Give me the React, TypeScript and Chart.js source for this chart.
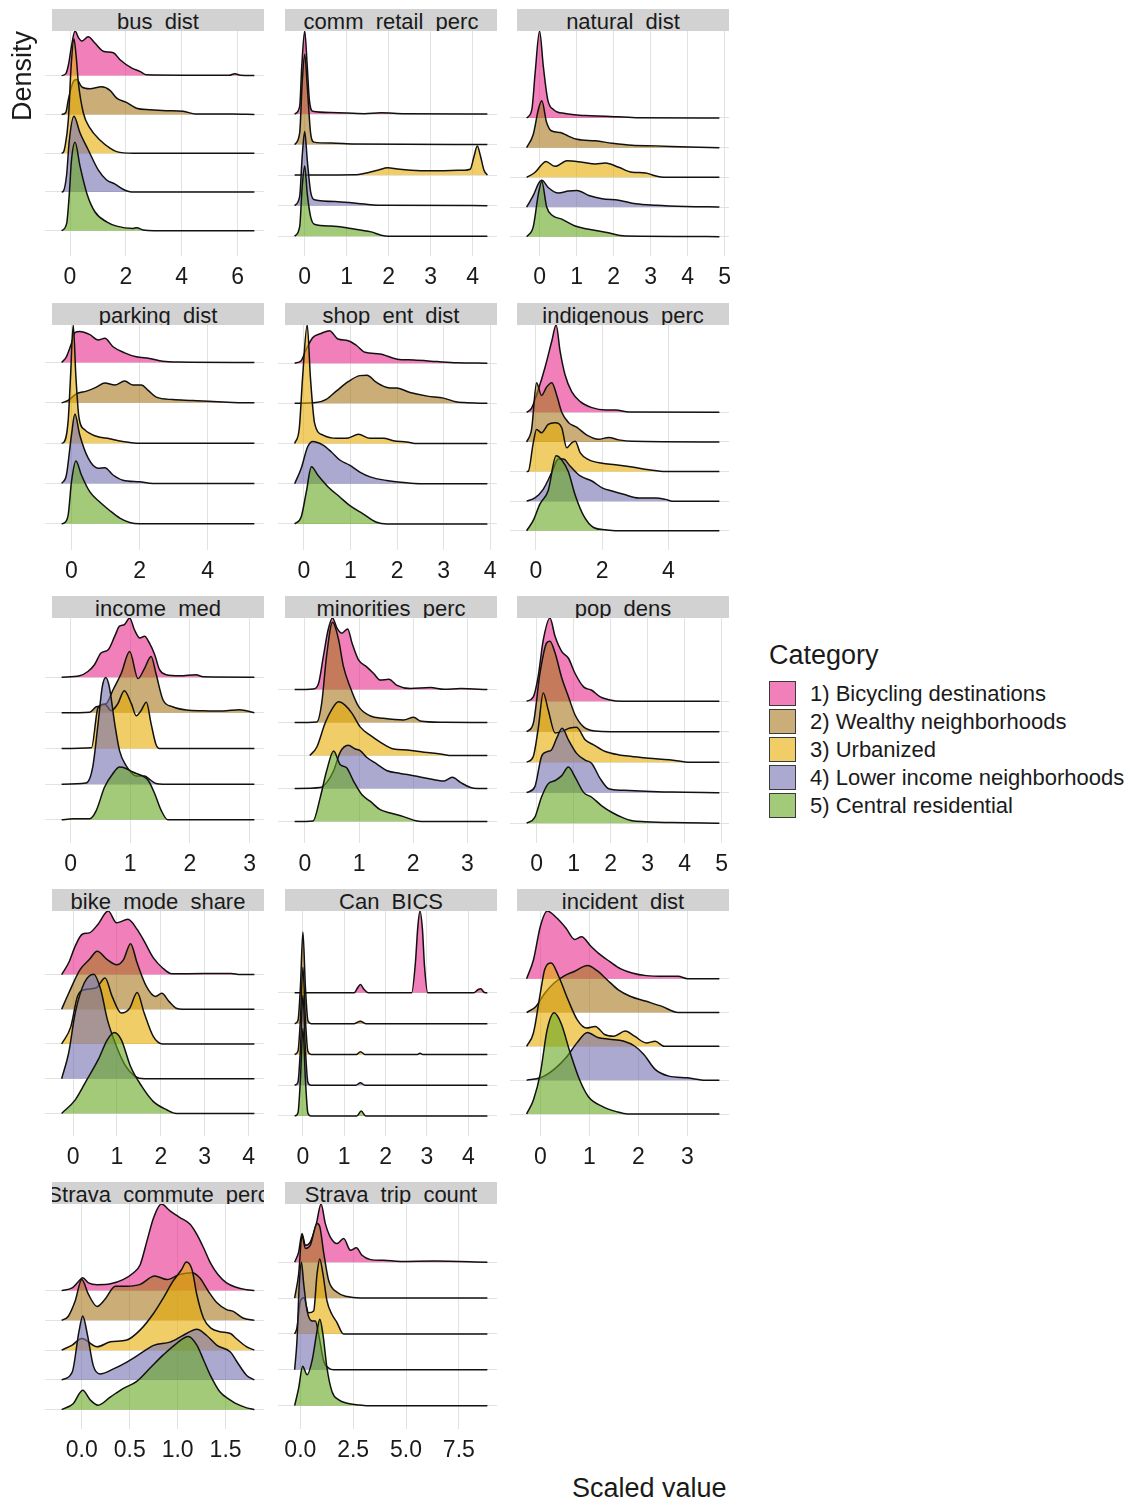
import React, { useEffect, useRef } from "react";
import { Chart, registerables } from "chart.js";

Chart.register(...registerables);

type Pt = [number, number];

// ---------- legend / categories ----------
const categories = [
  "1) Bicycling destinations",
  "2) Wealthy neighborhoods",
  "3) Urbanized",
  "4) Lower income neighborhoods",
  "5) Central residential",
];
const categoryColors = ["#E7298A", "#A6761D", "#E6AB02", "#7570B3", "#66A61E"];
const FILL_ALPHA = 0.6;

// ---------- ridge data: [scaled value, ridge height] per category (1..5) ----------
const busDist: Pt[][] = [
  [[-0.3,0],[-0.15,0.05],[-0.05,0.3],[0.05,0.75],[0.18,1.15],[0.3,0.98],[0.42,0.89],[0.65,1.0],[0.89,0.84],[1.19,0.63],[1.55,0.59],[1.79,0.41],[2.2,0.2],[2.5,0.11],[2.74,0.02],[4.0,0.01],[5.7,0.01],[5.9,0.05],[6.1,0.01],[6.6,0]],
  [[-0.3,0],[-0.15,0.05],[-0.06,0.38],[0.12,0.85],[0.24,0.9],[0.42,0.71],[0.71,0.66],[1.13,0.71],[1.43,0.62],[1.67,0.42],[2.02,0.31],[2.38,0.16],[2.86,0.12],[3.45,0.095],[4.05,0.08],[4.5,0.01],[5.8,0.01],[6.6,0]],
  [[-0.3,0],[-0.24,0.02],[-0.18,0.17],[-0.06,0.86],[0.04,2.24],[0.14,2.95],[0.22,2.5],[0.3,1.81],[0.48,1.03],[0.71,0.65],[1.07,0.34],[1.43,0.13],[1.67,0.04],[2.26,0],[6.6,0]],
  [[-0.3,0],[-0.24,0.02],[-0.12,0.45],[-0.03,1.3],[0.14,1.95],[0.36,1.52],[0.65,1.09],[1.01,0.57],[1.31,0.31],[1.6,0.21],[1.9,0.07],[2.2,0],[6.6,0]],
  [[-0.3,0],[-0.12,0.19],[-0.03,0.9],[0.05,1.8],[0.18,2.28],[0.36,1.66],[0.6,0.97],[0.89,0.49],[1.31,0.23],[1.67,0.12],[2.26,0.06],[2.38,0.08],[2.62,0.02],[3.0,0],[6.6,0]],
];
const commRetailPerc: Pt[][] = [
  [[-0.24,0],[-0.12,0.25],[-0.07,1.57],[0,2.72],[0.06,1.57],[0.11,0.47],[0.19,0.09],[0.63,0.05],[1.42,0.01],[1.82,0.04],[2.37,0.01],[4.35,0]],
  [[-0.24,0],[-0.12,0.38],[-0.06,2.03],[0,2.96],[0.06,1.92],[0.14,0.38],[0.22,0.08],[0.63,0.05],[1.18,0.02],[4.35,0]],
  [[-0.24,0],[1.18,0.01],[1.5,0.08],[1.74,0.16],[1.98,0.24],[2.21,0.2],[2.53,0.16],[3.0,0.14],[3.48,0.15],[3.8,0.16],[3.94,0.19],[4.03,0.6],[4.11,0.95],[4.19,0.6],[4.27,0.16],[4.35,0]],
  [[-0.24,0],[-0.12,0.3],[-0.06,1.61],[0,2.43],[0.06,1.5],[0.14,0.46],[0.23,0.19],[0.79,0.13],[1.42,0.05],[1.9,0.01],[4.35,0]],
  [[-0.24,0],[-0.12,0.31],[-0.06,1.62],[0,2.3],[0.06,1.4],[0.14,0.64],[0.23,0.39],[0.63,0.33],[1.1,0.25],[1.58,0.14],[1.82,0.03],[2.0,0],[4.35,0]],
];
const naturalDist: Pt[][] = [
  [[-0.35,0],[-0.21,0.28],[-0.12,1.52],[0,2.93],[0.1,1.75],[0.22,0.62],[0.38,0.28],[0.69,0.15],[1.24,0.08],[1.78,0.06],[2.6,0.01],[4.86,0]],
  [[-0.35,0],[-0.17,0.45],[-0.03,1.3],[0.06,1.58],[0.19,0.85],[0.33,0.56],[0.56,0.51],[0.78,0.39],[1.01,0.28],[1.51,0.23],[1.96,0.15],[2.5,0.08],[3.14,0.06],[4.04,0.02],[4.86,0]],
  [[-0.35,0],[-0.12,0.17],[0.06,0.43],[0.17,0.53],[0.42,0.37],[0.74,0.56],[1.15,0.51],[1.51,0.45],[1.78,0.48],[2.14,0.34],[2.5,0.17],[2.87,0.15],[3.05,0.08],[3.23,0.02],[3.5,0],[4.86,0]],
  [[-0.35,0],[-0.17,0.39],[-0.03,0.79],[0.06,0.9],[0.24,0.65],[0.51,0.47],[0.78,0.54],[1.01,0.56],[1.33,0.39],[1.69,0.28],[2.14,0.23],[2.6,0.11],[3.14,0.06],[3.95,0.02],[4.86,0]],
  [[-0.35,0],[-0.17,0.34],[-0.03,1.46],[0.06,1.86],[0.19,1.01],[0.33,0.73],[0.6,0.59],[0.96,0.36],[1.33,0.25],[1.78,0.15],[2.32,0.02],[3.86,0.01],[4.86,0]],
];
const parkingDist: Pt[][] = [
  [[-0.29,0],[-0.15,0.14],[0,0.48],[0.1,0.74],[0.24,0.77],[0.54,0.69],[0.78,0.56],[0.98,0.6],[1.22,0.39],[1.56,0.24],[1.9,0.14],[2.29,0.1],[2.68,0.03],[3.17,0.01],[5.37,0]],
  [[-0.29,0],[-0.1,0.06],[0.15,0.23],[0.44,0.29],[0.73,0.39],[0.98,0.49],[1.27,0.44],[1.56,0.54],[1.81,0.44],[2.05,0.44],[2.25,0.31],[2.49,0.14],[2.98,0.08],[3.56,0.06],[4.15,0.03],[4.73,0.01],[5.37,0]],
  [[-0.29,0],[-0.24,0.01],[-0.1,0.54],[-0.03,1.63],[0.05,2.93],[0.13,1.63],[0.22,0.63],[0.39,0.33],[0.73,0.17],[1.12,0.11],[1.51,0.04],[1.9,0],[5.37,0]],
  [[-0.29,0],[-0.15,0.21],[0,1.21],[0.1,1.72],[0.24,1.21],[0.49,0.63],[0.78,0.38],[0.98,0.39],[1.22,0.21],[1.51,0.08],[2.0,0.04],[2.39,0],[5.37,0]],
  [[-0.29,0],[-0.24,0.01],[-0.1,0.21],[0,1.05],[0.13,1.56],[0.29,1.21],[0.54,0.79],[0.83,0.54],[1.12,0.33],[1.42,0.14],[1.71,0.03],[2.0,0],[5.37,0]],
];
const shopEntDist: Pt[][] = [
  [[-0.2,0],[-0.06,0.06],[0.05,0.35],[0.19,0.64],[0.37,0.74],[0.55,0.81],[0.73,0.6],[0.95,0.56],[1.13,0.44],[1.31,0.27],[1.63,0.23],[2.0,0.1],[2.36,0.08],[2.86,0.04],[3.29,0.01],[3.94,0]],
  [[-0.2,0],[0.26,0.02],[0.48,0.1],[0.7,0.31],[0.95,0.54],[1.2,0.69],[1.35,0.7],[1.56,0.52],[1.81,0.39],[2.0,0.38],[2.28,0.27],[2.65,0.18],[3.0,0.13],[3.26,0.04],[3.44,0.02],[3.94,0]],
  [[-0.2,0],[-0.1,0.38],[-0.03,1.63],[0.07,2.95],[0.14,1.63],[0.23,0.5],[0.41,0.21],[0.7,0.13],[0.95,0.14],[1.17,0.23],[1.42,0.13],[1.71,0.13],[1.92,0.07],[2.21,0.04],[2.43,0],[3.94,0]],
  [[-0.2,0],[-0.06,0.38],[0.08,0.92],[0.19,1.05],[0.41,0.96],[0.59,0.79],[0.77,0.59],[0.98,0.46],[1.2,0.29],[1.42,0.17],[1.78,0.08],[2.14,0.03],[2.5,0],[3.94,0]],
  [[-0.2,0],[-0.06,0.17],[0.05,0.79],[0.16,1.42],[0.3,1.21],[0.52,0.92],[0.77,0.67],[0.98,0.46],[1.27,0.25],[1.56,0.04],[1.78,0],[3.94,0]],
];
const indigenousPerc: Pt[][] = [
  [[-0.28,0],[-0.13,0.14],[0.07,0.76],[0.27,1.5],[0.48,2.41],[0.61,2.95],[0.73,2.07],[0.88,1.27],[1.08,0.7],[1.34,0.36],[1.69,0.16],[2.1,0.08],[2.4,0.08],[2.81,0.01],[5.54,0]],
  [[-0.28,0],[-0.13,0.43],[0.02,2.0],[0.17,1.57],[0.32,1.85],[0.48,2.0],[0.63,1.57],[0.78,1.0],[0.98,0.66],[1.24,0.49],[1.54,0.23],[1.89,0.09],[2.2,0.15],[2.5,0.07],[2.91,0.02],[5.54,0]],
  [[-0.28,0],[-0.23,0.01],[-0.08,0.97],[0.02,1.42],[0.17,1.31],[0.37,1.59],[0.58,1.65],[0.78,1.48],[0.93,0.8],[1.08,0.97],[1.19,1.02],[1.34,0.63],[1.59,0.4],[2.0,0.28],[2.4,0.23],[2.91,0.15],[3.41,0.06],[3.92,0],[5.54,0]],
  [[-0.28,0],[-0.03,0.11],[0.22,0.4],[0.48,0.97],[0.68,1.42],[0.83,1.42],[1.03,1.19],[1.34,0.85],[1.69,0.68],[2.0,0.45],[2.3,0.34],[2.65,0.23],[3.11,0.11],[3.62,0.11],[3.92,0.06],[4.12,0],[5.54,0]],
  [[-0.28,0],[-0.08,0.35],[0.12,0.9],[0.37,1.35],[0.61,2.53],[0.78,2.39],[0.98,1.99],[1.19,1.19],[1.44,0.51],[1.74,0.11],[2.1,0.03],[2.4,0],[5.54,0]],
];
const incomeMed: Pt[][] = [
  [[-0.15,0],[0.15,0.04],[0.29,0.16],[0.4,0.35],[0.51,0.68],[0.63,0.77],[0.74,1.15],[0.82,1.43],[0.9,1.47],[0.99,1.66],[1.07,1.33],[1.16,1.1],[1.24,1.15],[1.32,0.96],[1.41,0.63],[1.49,0.21],[1.6,0.07],[1.83,0.04],[2.1,0.07],[2.22,0.01],[3.08,0]],
  [[-0.15,0],[0.32,0.02],[0.43,0.17],[0.6,0.26],[0.71,0.64],[0.85,1.11],[0.99,1.72],[1.13,0.96],[1.24,1.25],[1.35,1.58],[1.43,1.11],[1.55,0.36],[1.71,0.17],[1.94,0.08],[2.22,0.06],[2.55,0.05],[2.83,0.09],[3.08,0]],
  [[-0.15,0],[0.35,0.02],[0.46,1.15],[0.57,1.25],[0.68,1.06],[0.79,1.25],[0.9,1.62],[1.02,1.25],[1.1,0.92],[1.18,1.06],[1.27,1.3],[1.35,0.69],[1.43,0.12],[1.49,0],[3.08,0]],
  [[-0.15,0],[0.26,0.03],[0.37,0.47],[0.46,1.69],[0.53,2.72],[0.59,2.99],[0.65,2.72],[0.74,1.69],[0.82,0.94],[0.93,0.52],[1.1,0.23],[1.24,0.23],[1.32,0.14],[1.43,0.02],[1.55,0],[3.08,0]],
  [[-0.15,0],[0.04,0.03],[0.32,0.03],[0.43,0.26],[0.57,0.92],[0.71,1.3],[0.82,1.48],[0.93,1.44],[1.04,1.34],[1.18,1.25],[1.3,1.11],[1.41,0.73],[1.52,0.26],[1.63,0],[3.08,0]],
];
const minoritiesPerc: Pt[][] = [
  [[-0.19,0],[0.15,0.02],[0.25,0.18],[0.34,1.0],[0.43,1.82],[0.51,2.17],[0.59,1.87],[0.68,1.71],[0.79,1.84],[0.87,1.41],[0.99,0.9],[1.14,0.69],[1.27,0.49],[1.39,0.29],[1.55,0.31],[1.7,0.13],[1.95,0.03],[2.32,0.06],[2.57,0.01],[2.88,0.03],[3.37,0]],
  [[-0.19,0],[0.22,0.02],[0.31,0.59],[0.4,2.02],[0.51,3.04],[0.62,2.53],[0.71,1.71],[0.83,1.1],[0.99,0.49],[1.21,0.2],[1.45,0.13],[1.82,0.08],[2.01,0.16],[2.13,0.05],[2.57,0.01],[3.37,0]],
  [[0.09,0],[0.22,0.26],[0.37,0.97],[0.49,1.38],[0.62,1.63],[0.74,1.53],[0.87,1.28],[1.02,0.87],[1.21,0.61],[1.39,0.41],[1.64,0.2],[1.89,0.17],[2.2,0.1],[2.5,0.05],[2.72,0],[3.37,0]],
  [[-0.19,0],[0.28,0.03],[0.4,0.18],[0.53,0.54],[0.65,1.1],[0.8,1.31],[0.93,1.2],[1.02,1.15],[1.14,0.95],[1.33,0.74],[1.52,0.54],[1.76,0.46],[2.01,0.39],[2.32,0.29],[2.57,0.23],[2.72,0.34],[2.88,0.18],[3.06,0.03],[3.18,0],[3.37,0]],
  [[-0.19,0],[0.15,0.02],[0.28,0.71],[0.4,1.53],[0.53,2.14],[0.65,1.73],[0.77,1.63],[0.9,1.22],[1.05,0.82],[1.21,0.61],[1.39,0.36],[1.58,0.26],[1.82,0.15],[2.07,0.02],[2.25,0],[3.37,0]],
];
const popDens: Pt[][] = [
  [[-0.27,0],[-0.09,0.14],[0.04,0.8],[0.18,2.01],[0.36,2.73],[0.5,2.12],[0.68,1.63],[0.86,1.41],[1.04,0.91],[1.27,0.47],[1.49,0.36],[1.72,0.14],[1.95,0.05],[2.31,0],[4.94,0]],
  [[-0.27,0],[-0.09,0.27],[0.09,1.92],[0.27,2.91],[0.36,2.97],[0.5,2.58],[0.68,1.76],[0.86,1.15],[1.04,0.55],[1.27,0.16],[1.59,0.02],[2.0,0],[4.94,0]],
  [[-0.27,0],[-0.09,0.19],[0.04,1.07],[0.18,2.27],[0.31,1.73],[0.5,0.96],[0.68,1.01],[0.9,1.12],[1.08,1.15],[1.31,0.74],[1.54,0.57],[1.86,0.35],[2.23,0.24],[2.58,0.19],[3.04,0.13],[3.58,0.08],[3.85,0.04],[4.08,0],[4.94,0]],
  [[-0.27,0],[-0.05,0.19],[0.13,1.18],[0.27,1.34],[0.4,1.4],[0.54,1.78],[0.69,2.11],[0.86,1.73],[1.08,1.29],[1.31,1.07],[1.49,0.96],[1.72,0.46],[1.95,0.13],[2.31,0.08],[2.94,0.05],[3.67,0.02],[4.94,0]],
  [[-0.27,0],[-0.05,0.19],[0.13,0.85],[0.31,1.29],[0.5,1.4],[0.68,1.56],[0.86,1.84],[1.04,1.51],[1.27,1.01],[1.49,0.85],[1.76,0.57],[2.04,0.35],[2.31,0.19],[2.58,0.08],[2.94,0.05],[3.67,0.02],[4.94,0]],
];
const bikeModeShare: Pt[][] = [
  [[-0.26,0],[-0.1,0.34],[0.05,0.82],[0.21,1.16],[0.37,1.2],[0.57,1.45],[0.8,1.83],[0.99,1.49],[1.25,1.59],[1.46,1.3],[1.62,0.96],[1.83,0.48],[2.04,0.19],[2.25,0.02],[2.98,0.03],[3.6,0.03],[3.81,0],[4.13,0]],
  [[-0.26,0],[-0.1,0.46],[0.16,1.14],[0.37,1.43],[0.55,1.67],[0.78,1.43],[0.99,1.28],[1.15,1.43],[1.31,1.89],[1.46,1.33],[1.67,0.66],[1.88,0.37],[2.02,0.46],[2.19,0.22],[2.35,0.03],[2.5,0],[4.13,0]],
  [[-0.26,0],[-0.05,0.5],[0.1,1.37],[0.26,1.56],[0.52,1.61],[0.73,1.9],[0.89,1.37],[1.1,0.89],[1.29,1.03],[1.46,1.48],[1.62,0.89],[1.83,0.21],[2.04,0],[4.13,0]],
  [[-0.26,0],[-0.1,0.74],[0.05,1.9],[0.26,2.77],[0.47,3.01],[0.63,2.57],[0.78,1.71],[0.99,0.93],[1.2,0.36],[1.41,0.07],[1.62,0],[4.13,0]],
  [[-0.26,0],[0.05,0.39],[0.31,0.96],[0.57,1.54],[0.78,2.12],[0.94,2.33],[1.1,2.12],[1.31,1.35],[1.57,0.77],[1.83,0.34],[2.14,0.1],[2.35,0],[4.13,0]],
];
const canBics: Pt[][] = [
  [[-0.2,0],[1.24,0],[1.32,0.16],[1.39,0.27],[1.48,0.11],[1.58,0],[2.63,0],[2.72,0.98],[2.78,2.17],[2.83,2.66],[2.89,2.07],[2.94,0.87],[3.02,0],[4.13,0],[4.24,0.11],[4.3,0.13],[4.39,0.01],[4.46,0]],
  [[-0.2,0],[-0.12,0.1],[-0.06,1.2],[0,2.98],[0.06,1.2],[0.12,0.1],[0.2,0],[1.24,0],[1.39,0.08],[1.52,0],[4.46,0]],
  [[-0.2,0],[-0.12,0.1],[-0.06,1.15],[0,2.83],[0.06,1.15],[0.12,0.1],[0.2,0],[1.3,0],[1.39,0.09],[1.5,0],[2.77,0],[2.83,0.04],[2.9,0],[4.46,0]],
  [[-0.2,0],[-0.12,0.1],[-0.06,1.18],[0,2.93],[0.06,1.18],[0.12,0.1],[0.2,0],[1.28,0],[1.39,0.08],[1.5,0],[4.46,0]],
  [[-0.2,0],[-0.12,0.1],[-0.06,1.2],[0,2.85],[0.06,1.2],[0.12,0.1],[0.2,0],[1.3,0],[1.41,0.16],[1.52,0],[4.46,0]],
];
const incidentDist: Pt[][] = [
  [[-0.28,0],[-0.14,0.56],[0,1.55],[0.14,2.0],[0.33,1.8],[0.52,1.5],[0.7,1.16],[0.84,1.24],[1.03,0.96],[1.22,0.71],[1.41,0.51],[1.64,0.29],[1.87,0.17],[2.16,0.09],[2.53,0.07],[2.81,0.07],[3.0,0],[3.65,0]],
  [[-0.28,0],[-0.09,0.18],[0.09,0.57],[0.28,0.87],[0.47,1.07],[0.7,1.22],[0.96,1.39],[1.17,1.22],[1.36,0.97],[1.59,0.67],[1.83,0.48],[2.16,0.33],[2.48,0.18],[2.81,0],[3.65,0]],
  [[-0.28,0],[-0.14,0.4],[0,1.58],[0.09,2.28],[0.22,2.46],[0.37,2.08],[0.56,1.39],[0.75,0.79],[0.94,0.54],[1.12,0.59],[1.31,0.35],[1.5,0.3],[1.73,0.45],[1.92,0.3],[2.16,0.1],[2.34,0.15],[2.53,0],[3.65,0]],
  [[-0.28,0],[0,0.07],[0.28,0.32],[0.52,0.66],[0.75,1.11],[0.96,1.41],[1.17,1.26],[1.41,1.21],[1.69,1.16],[1.92,1.01],[2.11,0.76],[2.34,0.32],[2.62,0.12],[3.0,0.07],[3.37,0],[3.65,0]],
  [[-0.28,0],[-0.14,0.42],[0,1.21],[0.14,2.5],[0.28,2.99],[0.42,2.69],[0.61,1.8],[0.8,1.01],[0.98,0.51],[1.27,0.22],[1.55,0.07],[1.78,0],[3.65,0]],
];
const stravaCommutePerc: Pt[][] = [
  [[-0.21,0],[-0.1,0.09],[-0.03,0.32],[0.01,0.43],[0.07,0.26],[0.16,0.2],[0.3,0.23],[0.43,0.37],[0.54,0.6],[0.61,0.88],[0.68,1.67],[0.75,2.46],[0.83,2.91],[0.92,2.68],[1.02,2.46],[1.13,2.23],[1.2,1.89],[1.27,1.44],[1.34,0.94],[1.42,0.54],[1.51,0.26],[1.61,0.11],[1.72,0.03],[1.8,0]],
  [[-0.21,0],[-0.14,0.14],[-0.07,0.64],[0,1.37],[0.07,0.87],[0.16,0.47],[0.24,0.7],[0.35,1.15],[0.47,1.15],[0.61,1.21],[0.76,1.49],[0.89,1.37],[1.02,1.54],[1.15,1.6],[1.23,1.43],[1.32,0.98],[1.41,0.59],[1.51,0.36],[1.58,0.3],[1.68,0.08],[1.8,0]],
  [[-0.21,0],[-0.1,0.17],[0,0.39],[0.16,0.11],[0.3,0.28],[0.47,0.34],[0.61,0.68],[0.75,1.24],[0.85,1.75],[0.95,2.31],[1.04,2.7],[1.09,2.96],[1.15,2.7],[1.2,1.86],[1.27,1.07],[1.35,0.73],[1.44,0.62],[1.55,0.56],[1.61,0.39],[1.72,0.11],[1.8,0]],
  [[-0.21,0],[-0.1,0.26],[-0.03,1.61],[0.01,2.15],[0.06,1.5],[0.12,0.48],[0.19,0.2],[0.33,0.37],[0.47,0.6],[0.61,0.88],[0.75,1.16],[0.92,1.27],[1.06,1.5],[1.2,1.7],[1.3,1.5],[1.41,1.16],[1.55,0.94],[1.61,0.65],[1.72,0.15],[1.8,0]],
  [[-0.21,0],[-0.09,0.2],[0.01,0.65],[0.09,0.32],[0.17,0.15],[0.3,0.43],[0.43,0.71],[0.57,0.94],[0.71,1.39],[0.85,1.84],[0.99,2.23],[1.11,2.46],[1.2,2.17],[1.27,1.67],[1.34,1.16],[1.44,0.6],[1.55,0.32],[1.61,0.2],[1.72,0.06],[1.8,0]],
];
const stravaTripCount: Pt[][] = [
  [[-0.27,0],[-0.08,0.28],[0.08,0.8],[0.24,0.47],[0.47,0.56],[0.76,1.08],[0.98,1.62],[1.18,1.08],[1.42,0.7],[1.74,0.52],[2.05,0.66],[2.37,0.33],[2.65,0.4],[2.92,0.19],[3.32,0.07],[3.95,0.05],[4.74,0.02],[6.32,0.03],[8.85,0]],
  [[-0.27,0],[-0.08,0.67],[0.08,1.75],[0.24,1.38],[0.47,1.47],[0.79,2.08],[0.92,1.99],[1.11,1.24],[1.34,0.49],[1.74,0.16],[2.21,0.04],[2.84,0],[8.85,0]],
  [[-0.27,0],[-0.16,0.17],[0.0,0.92],[0.16,1.01],[0.39,0.59],[0.63,0.64],[0.79,1.67],[0.92,2.09],[1.07,1.67],[1.26,0.92],[1.5,0.54],[1.74,0.31],[1.97,0.03],[2.05,0],[8.85,0]],
  [[-0.27,0],[-0.16,0.8],[-0.05,2.39],[0.05,3.0],[0.16,2.39],[0.32,1.64],[0.55,1.36],[0.71,1.36],[0.87,0.98],[1.11,0.23],[1.34,0.05],[1.58,0],[8.85,0]],
  [[-0.27,0],[-0.08,0.49],[0.11,1.1],[0.32,0.86],[0.55,1.24],[0.79,2.08],[0.92,2.41],[1.07,1.99],[1.26,1.05],[1.5,0.39],[1.82,0.16],[2.21,0.07],[2.76,0.02],[3.15,0],[8.85,0]],
];

// ---------- x tick values / labels ----------
const ticks0246 = [0, 2, 4, 6];
const ticks024 = [0, 2, 4];
const ticks01234 = [0, 1, 2, 3, 4];
const ticks012345 = [0, 1, 2, 3, 4, 5];
const ticks0123 = [0, 1, 2, 3];
const stravaCommuteTicks = [0, 0.5, 1, 1.5];
const stravaCommuteTickLabels = ["0.0", "0.5", "1.0", "1.5"];
const stravaTripTicks = [0, 2.5, 5, 7.5];
const stravaTripTickLabels = ["0.0", "2.5", "5.0", "7.5"];

const panelTitles = [
  "bus  dist", "comm  retail  perc", "natural  dist",
  "parking  dist", "shop  ent  dist", "indigenous  perc",
  "income  med", "minorities  perc", "pop  dens",
  "bike  mode  share", "Can  BICS", "incident  dist",
  "Strava  commute  perc", "Strava  trip  count",
];

type PanelSpec = { title: string; ridges: Pt[][]; ticks: number[]; labels?: string[] };
const panels: PanelSpec[] = [
  { title: panelTitles[0], ridges: busDist, ticks: ticks0246 },
  { title: panelTitles[1], ridges: commRetailPerc, ticks: ticks01234 },
  { title: panelTitles[2], ridges: naturalDist, ticks: ticks012345 },
  { title: panelTitles[3], ridges: parkingDist, ticks: ticks024 },
  { title: panelTitles[4], ridges: shopEntDist, ticks: ticks01234 },
  { title: panelTitles[5], ridges: indigenousPerc, ticks: ticks024 },
  { title: panelTitles[6], ridges: incomeMed, ticks: ticks0123 },
  { title: panelTitles[7], ridges: minoritiesPerc, ticks: ticks0123 },
  { title: panelTitles[8], ridges: popDens, ticks: ticks012345 },
  { title: panelTitles[9], ridges: bikeModeShare, ticks: ticks01234 },
  { title: panelTitles[10], ridges: canBics, ticks: ticks01234 },
  { title: panelTitles[11], ridges: incidentDist, ticks: ticks0123 },
  { title: panelTitles[12], ridges: stravaCommutePerc, ticks: stravaCommuteTicks, labels: stravaCommuteTickLabels },
  { title: panelTitles[13], ridges: stravaTripCount, ticks: stravaTripTicks, labels: stravaTripTickLabels },
];

// ---------- layout ----------
const FONT = '"Liberation Sans", Arial, Helvetica, sans-serif';
const COL_LEFT = [52, 285, 517];
const ROW_TOP = [9, 303, 596, 889, 1182];
const PANEL_W = 212;
const HEADER_H = 22;
const PANEL_H = 225;
const AXIS_H = 40;
const STUB = 7;
const PAD = 20;
const Y_MIN = 0.35;
const GRID = "#e2e2e2";

function rgba(hex: string, a: number) {
  const n = parseInt(hex.slice(1), 16);
  return `rgba(${(n >> 16) & 255},${(n >> 8) & 255},${n & 255},${a})`;
}

function RidgePanel({ spec, col, row }: { spec: PanelSpec; col: number; row: number }) {
  const ref = useRef<HTMLCanvasElement | null>(null);
  const left = COL_LEFT[col];
  const top = ROW_TOP[row];
  const cw = PANEL_W + STUB + 2 * PAD;
  const ch = PANEL_H + AXIS_H;

  useEffect(() => {
    if (!ref.current) return;
    const xs = spec.ridges.flat().map((d) => d[0]);
    const lo = Math.min(...xs);
    const hi = Math.max(...xs);
    const pad = 0.05 * (hi - lo);
    const n = spec.ridges.length;
    const yMax = Math.max(
      ...spec.ridges.map((r, i) => n - i + Math.max(...r.map((d) => d[1])))
    );
    const datasets = spec.ridges.map((r, i) => ({
      label: categories[i],
      data: r.map(([x, h]) => ({ x, y: n - i + h })),
      fill: { value: n - i },
      backgroundColor: rgba(categoryColors[i], FILL_ALPHA),
      borderColor: "#111111",
      borderWidth: 1.5,
      pointRadius: 0,
      cubicInterpolationMode: "monotone" as const,
      order: n - i,
    }));
    const chart = new Chart(ref.current, {
      type: "line",
      data: { datasets },
      options: {
        animation: false,
        responsive: false,
        devicePixelRatio: 1,
        events: [],
        layout: { padding: { left: PAD, right: PAD, top: 0, bottom: 0 } },
        plugins: { legend: { display: false }, tooltip: { enabled: false } },
        scales: {
          x: {
            type: "linear",
            bounds: "data",
            min: lo - pad,
            max: hi + pad,
            afterBuildTicks: (axis: any) => {
              axis.ticks = spec.ticks.map((v) => ({ value: v }));
            },
            afterFit: (axis: any) => {
              axis.height = AXIS_H;
            },
            grid: { color: GRID, lineWidth: 1, drawTicks: false },
            border: { display: false },
            ticks: {
              autoSkip: false,
              maxRotation: 0,
              padding: 8,
              color: "#1a1a1a",
              font: { family: FONT, size: 23 },
              callback: (v: any, i: number) =>
                spec.labels ? spec.labels[i] : String(spec.ticks[i]),
            },
          },
          y: {
            type: "linear",
            bounds: "data",
            min: Y_MIN,
            max: yMax,
            afterBuildTicks: (axis: any) => {
              axis.ticks = [1, 2, 3, 4, 5].map((v) => ({ value: v }));
            },
            afterFit: (axis: any) => {
              axis.width = STUB;
            },
            grid: { color: GRID, lineWidth: 1, drawTicks: true, tickLength: STUB },
            border: { display: false },
            ticks: { display: false },
          },
        },
      } as any,
    });
    return () => chart.destroy();
  }, [spec]);

  return (
    <>
      <canvas
        ref={ref}
        width={cw}
        height={ch}
        style={{
          position: "absolute",
          left: left - STUB - PAD,
          top: top + HEADER_H,
          width: cw,
          height: ch,
        }}
      />
      <div
        style={{
          position: "absolute",
          left,
          top,
          width: PANEL_W,
          height: HEADER_H,
          background: "#d2d2d2",
          overflow: "hidden",
          display: "flex",
          justifyContent: "center",
          alignItems: "flex-start",
          fontFamily: FONT,
          fontSize: 22,
          lineHeight: "25px",
          color: "#1a1a1a",
          whiteSpace: "pre",
        }}
      >
        <span style={{ flex: "none" }}>{spec.title}</span>
      </div>
    </>
  );
}

export default function App() {
  return (
    <div
      style={{
        position: "absolute",
        left: 0,
        top: 0,
        width: 1130,
        height: 1501,
        background: "#ffffff",
        overflow: "hidden",
        fontFamily: FONT,
      }}
    >
      {panels.map((p, i) => (
        <RidgePanel key={i} spec={p} col={i % 3} row={Math.floor(i / 3)} />
      ))}

      {/* y-axis title */}
      <div
        style={{
          position: "absolute",
          left: 22,
          top: 76,
          transform: "translate(-50%, -50%) rotate(-90deg)",
          fontSize: 27,
          lineHeight: "30px",
          color: "#1a1a1a",
          whiteSpace: "nowrap",
        }}
      >
        Density
      </div>

      {/* x-axis title */}
      <div
        style={{
          position: "absolute",
          left: 572,
          top: 1473,
          fontSize: 27,
          lineHeight: "30px",
          color: "#1a1a1a",
          whiteSpace: "nowrap",
        }}
      >
        Scaled value
      </div>

      {/* legend */}
      <div
        style={{
          position: "absolute",
          left: 769,
          top: 640,
          fontSize: 27,
          lineHeight: "30px",
          color: "#1a1a1a",
          whiteSpace: "nowrap",
        }}
      >
        Category
      </div>
      {categories.map((c, i) => (
        <div
          key={c}
          style={{
            position: "absolute",
            left: 769,
            top: 681 + 28 * i,
            height: 25,
            display: "flex",
            alignItems: "center",
            whiteSpace: "nowrap",
          }}
        >
          <div
            style={{
              width: 25,
              height: 23,
              border: "1px solid #3a3a3a",
              background: rgba(categoryColors[i], FILL_ALPHA),
            }}
          />
          <span
            style={{
              marginLeft: 14,
              fontSize: 22,
              lineHeight: "25px",
              color: "#1a1a1a",
            }}
          >
            {c}
          </span>
        </div>
      ))}
    </div>
  );
}
